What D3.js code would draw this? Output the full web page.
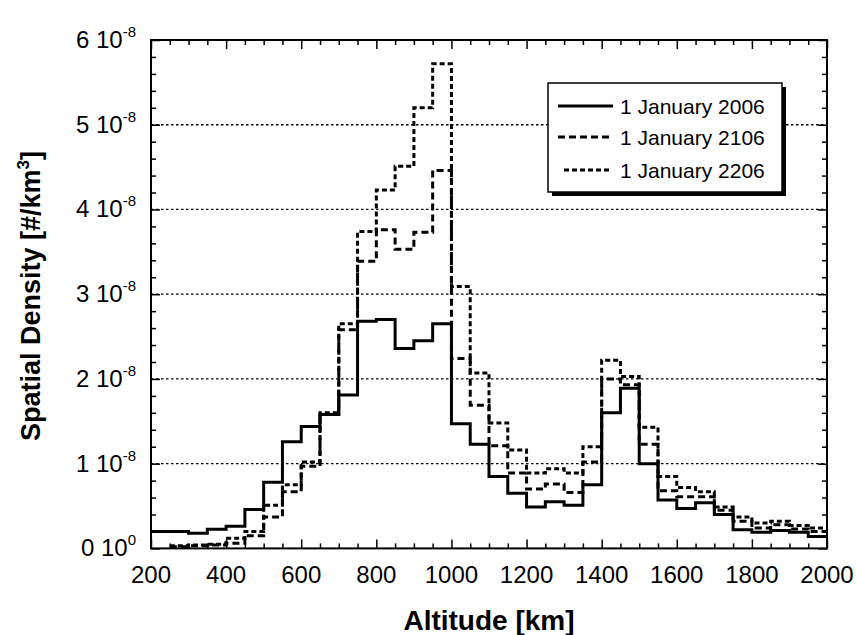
<!DOCTYPE html>
<html><head><meta charset="utf-8">
<script src="https://cdn.jsdelivr.net/npm/d3@7/dist/d3.min.js"></script>
<style>body{margin:0;background:#fff;}svg{display:block;font-family:"Liberation Sans",Arial,sans-serif;}</style>
</head><body><svg id="c" width="858" height="635"></svg>
<script>
// bin starts (km), bin width 50 km
const binStarts = [200,250,300,350,400,450,500,550,600,650,700,750,800,850,900,950,1000,1050,1100,1150,1200,1250,1300,1350,1400,1450,1500,1550,1600,1650,1700,1750,1800,1850,1900,1950];
const binEnd = 2000;
// values in units of 1e-8 #/km^3
const s2006 = [0.20,0.20,0.18,0.225,0.26,0.46,0.78,1.26,1.44,1.58,1.81,2.68,2.70,2.36,2.45,2.65,1.47,1.23,0.85,0.65,0.49,0.55,0.51,0.75,1.60,1.89,1.00,0.57,0.47,0.54,0.40,0.22,0.19,0.21,0.19,0.14];
const s2106 = [null,0.02,0.03,0.04,0.06,0.15,0.37,0.67,0.97,1.58,2.58,3.39,3.76,3.53,3.73,4.46,2.24,1.69,1.21,0.89,0.70,0.76,0.66,1.02,2.00,1.93,1.23,0.68,0.61,0.61,0.45,0.32,0.24,0.28,0.23,0.20];
const s2206 = [null,0.03,0.04,0.05,0.12,0.20,0.51,0.75,1.02,1.60,2.65,3.74,4.23,4.51,5.20,5.72,3.09,2.07,1.48,1.16,0.89,0.94,0.89,1.20,2.22,2.03,1.43,0.85,0.72,0.67,0.49,0.37,0.30,0.32,0.27,0.24];
const seriesNames = ["1 January 2006","1 January 2106","1 January 2206"];
const xTicks = [200,400,600,800,1000,1200,1400,1600,1800,2000];
const yTicks = [0,1,2,3,4,5,6];
const yTickExp = ["0","-8","-8","-8","-8","-8","-8"];

const svg = d3.select("#c");
const L=151, R=827, T=40, B=548.4;
const x = d3.scaleLinear().domain([200,2000]).range([L,R]);
const y = d3.scaleLinear().domain([0,6]).range([B,T]);

// grid
svg.append("g").selectAll("line").data([1,2,3,4,5]).join("line")
  .attr("x1",L).attr("x2",R).attr("y1",d=>y(d)).attr("y2",d=>y(d))
  .attr("stroke","#000").attr("stroke-width",1.3).attr("stroke-dasharray","2.5,2.5");

// ticks (inward) via axes
const minorX = d3.range(200,2001,50);
const minorY = d3.range(0,6.01,0.2);
function tickSet(axisFn, scale, vals, size, tr){
  svg.append("g").attr("transform",tr)
    .call(axisFn(scale).tickValues(vals).tickSize(size).tickFormat(""))
    .call(g=>g.select(".domain").remove())
    .call(g=>g.selectAll("line").attr("stroke","#000").attr("stroke-width",1.5));
}
tickSet(d3.axisTop, x, minorX.filter(v=>v%200!==0), 5, `translate(0,${B})`);
tickSet(d3.axisTop, x, xTicks, 9, `translate(0,${B})`);
tickSet(d3.axisBottom, x, minorX.filter(v=>v%200!==0), 5, `translate(0,${T})`);
tickSet(d3.axisBottom, x, xTicks, 9, `translate(0,${T})`);
tickSet(d3.axisRight, y, minorY.filter(v=>Math.abs(v-Math.round(v))>0.01), 5, `translate(${L},0)`);
tickSet(d3.axisRight, y, yTicks, 9, `translate(${L},0)`);
tickSet(d3.axisLeft, y, minorY.filter(v=>Math.abs(v-Math.round(v))>0.01), 5, `translate(${R},0)`);
tickSet(d3.axisLeft, y, yTicks, 9, `translate(${R},0)`);

// x tick labels
svg.append("g").selectAll("text").data(xTicks).join("text")
  .attr("x",d=>x(d)).attr("y",583).attr("text-anchor","middle")
  .attr("font-size",24).text(d=>d);
// y tick labels
const yl = svg.append("g").selectAll("text").data(yTicks).join("text")
  .attr("x",136).attr("y",d=>y(d)+8).attr("text-anchor","end").attr("font-size",24);
yl.append("tspan").text(d=>d+" 10");
yl.append("tspan").attr("dy",-11).attr("font-size",15).text((d,i)=>yTickExp[i]);

// step lines
function stepPts(vals){
  const pts = binStarts.map((b,i)=>({x:b,v:vals[i]}));
  pts.push({x:binEnd, v:vals[vals.length-1]});
  return pts;
}
const line = d3.line().defined(d=>d.v!==null).x(d=>x(d.x)).y(d=>y(d.v)).curve(d3.curveStepAfter);
const styles = [
  {data:s2006, dash:null},
  {data:s2106, dash:"7,4"},
  {data:s2206, dash:"5,3"}
];
styles.slice().reverse().forEach(s=>{
  svg.append("path").datum(stepPts(s.data)).attr("d",line)
    .attr("fill","none").attr("stroke","#000").attr("stroke-width",3)
    .attr("stroke-dasharray",s.dash);
});

// frame
svg.append("rect").attr("x",L).attr("y",T).attr("width",R-L).attr("height",B-T)
  .attr("fill","none").attr("stroke","#000").attr("stroke-width",2);

// legend
const lg = svg.append("g");
lg.append("rect").attr("x",552).attr("y",87).attr("width",234).attr("height",109).attr("fill","#000");
lg.append("rect").attr("x",548).attr("y",83).attr("width",234).attr("height",109).attr("fill","#fff").attr("stroke","#000").attr("stroke-width",1.5);
const ly = [106,137,170];
const lx1 = [558,558,564], lx2=[613,613,610];
styles.forEach((s,i)=>{
  lg.append("line").attr("x1",lx1[i]).attr("x2",lx2[i]).attr("y1",ly[i]).attr("y2",ly[i])
    .attr("stroke","#000").attr("stroke-width",3).attr("stroke-dasharray",s.dash);
  lg.append("text").attr("x",620).attr("y",ly[i]+7.5).attr("font-size",21).text(seriesNames[i]);
});

// axis titles
svg.append("text").attr("x",489).attr("y",630).attr("text-anchor","middle")
  .attr("font-size",28).attr("font-weight","bold").text("Altitude [km]");
const yt = svg.append("text").attr("transform","translate(40,296) rotate(-90)")
  .attr("text-anchor","middle").attr("font-size",27).attr("font-weight","bold");
yt.append("tspan").text("Spatial Density [#/km");
yt.append("tspan").attr("dy",-11).attr("font-size",17).text("3");
yt.append("tspan").attr("dy",11).text("]");
</script></body></html>
